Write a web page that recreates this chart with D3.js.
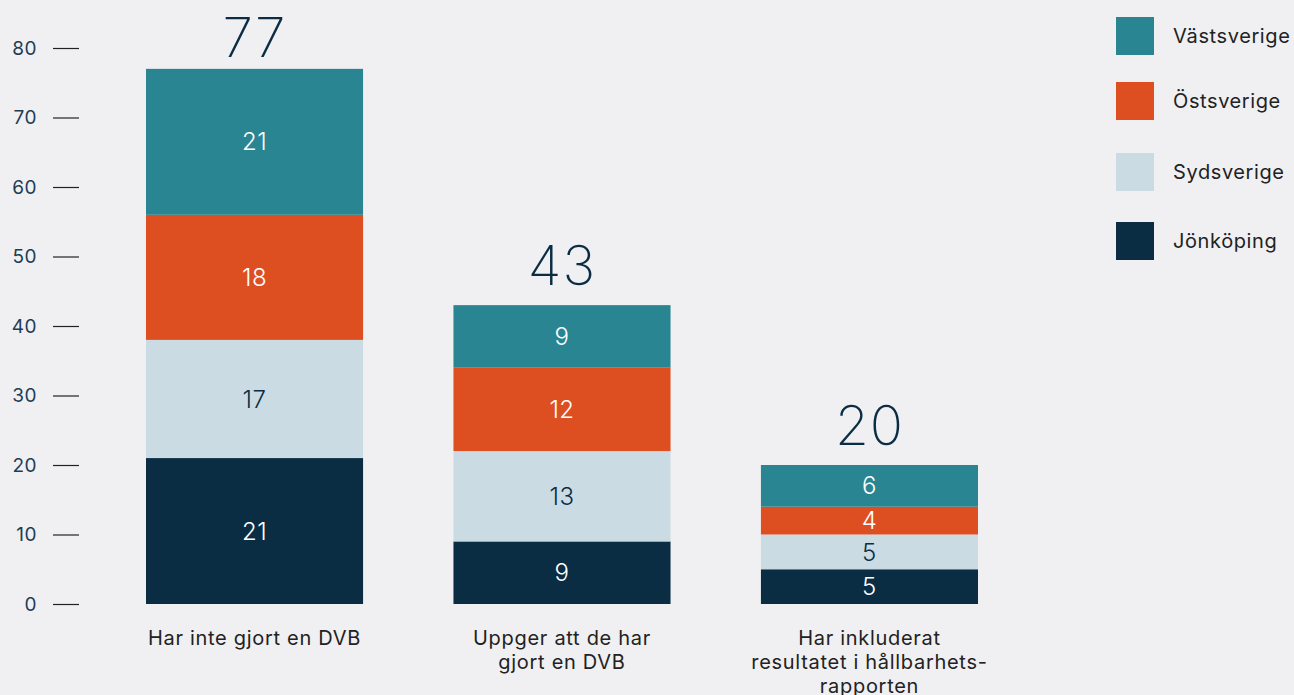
<!DOCTYPE html>
<html>
<head>
<meta charset="utf-8">
<script src="https://cdn.jsdelivr.net/npm/d3@7"></script>
<style>
  html, body { margin: 0; padding: 0; background: #f0f0f2; }
  svg { display: block; font-family: Inter, "Open Sans", sans-serif; }
</style>
</head>
<body>
<svg id="chart" width="1294" height="695"></svg>
<script>
const categories = [
  ['Har inte gjort en DVB'],
  ['Uppger att de har', 'gjort en DVB'],
  ['Har inkluderat', 'resultatet i hållbarhets-', 'rapporten']
];
const regions = ['Jönköping', 'Sydsverige', 'Östsverige', 'Västsverige'];
const jonkoping = [21, 9, 5];
const sydsverige = [17, 13, 5];
const ostsverige = [18, 12, 4];
const vastsverige = [21, 9, 6];
const yTicks = [0, 10, 20, 30, 40, 50, 60, 70, 80];

const colors = {
  'Västsverige': '#2a8592',
  'Östsverige': '#dd4f20',
  'Sydsverige': '#cbdbe3',
  'Jönköping': '#0a2d44'
};
const labelColor = { 'Sydsverige': '#0a2d44' };

const rows = categories.map((c, i) => ({
  key: i,
  'Jönköping': jonkoping[i],
  'Sydsverige': sydsverige[i],
  'Östsverige': ostsverige[i],
  'Västsverige': vastsverige[i]
}));
const totals = rows.map(r => regions.reduce((s, k) => s + r[k], 0));

const svg = d3.select('#chart');

let x = d3.scaleBand().domain(d3.range(categories.length)).range([100.8, 1023.2]).paddingInner(0.294).paddingOuter(0.147);
let y = d3.scaleLinear().domain([0, 80]).range([604, 48]);

// y axis
let yAxis = svg.append('g').attr('transform', 'translate(53,0)');
yAxis.selectAll('line').data(yTicks).enter().append('line')
  .attr('x1', 0).attr('x2', 26)
  .attr('y1', d => y(d) + 0.5).attr('y2', d => y(d) + 0.5)
  .attr('stroke', '#222').attr('stroke-width', 1.2);
yAxis.selectAll('text').data(yTicks).enter().append('text')
  .attr('x', -16).attr('y', d => y(d))
  .attr('dy', '0.35em')
  .attr('text-anchor', 'end')
  .attr('font-size', 19)
  .attr('letter-spacing', 0.5)
  .attr('fill', '#1d3d55')
  .text(d => d);

// stacked bars
let series = d3.stack().keys(regions)(rows);
let layers = svg.append('g').selectAll('g').data(series).enter().append('g')
  .attr('fill', d => colors[d.key]);

layers.selectAll('rect').data(d => d.map(v => Object.assign(v, { region: d.key }))).enter().append('rect')
  .attr('x', (d, i) => x(i))
  .attr('width', x.bandwidth())
  .attr('y', d => y(d[1]))
  .attr('height', d => y(d[0]) - y(d[1]));

layers.selectAll('text').data(d => d).enter().append('text')
  .attr('x', (d, i) => x(i) + x.bandwidth() / 2)
  .attr('y', d => (y(d[0]) + y(d[1])) / 2)
  .attr('dy', '0.36em')
  .attr('text-anchor', 'middle')
  .attr('font-size', 24)
  .attr('font-weight', 300)
  .attr('letter-spacing', 0.5)
  .attr('fill', d => labelColor[d.region] || '#ffffff')
  .text(d => d[1] - d[0]);

// totals
svg.append('g').selectAll('text').data(totals).enter().append('text')
  .attr('x', (d, i) => x(i) + x.bandwidth() / 2)
  .attr('y', d => Math.max(57, y(d) - 20))
  .attr('text-anchor', 'middle')
  .attr('font-size', 55)
  .attr('font-weight', 200)
  .attr('letter-spacing', 1)
  .attr('fill', '#0a2d44')
  .text(d => d);

// category labels
let cats = svg.append('g').selectAll('text').data(categories).enter().append('text')
  .attr('x', (d, i) => x(i) + x.bandwidth() / 2)
  .attr('y', 645)
  .attr('text-anchor', 'middle')
  .attr('font-size', 20)
  .attr('letter-spacing', 0.7)
  .attr('fill', '#222');
cats.selectAll('tspan').data(d => d).enter().append('tspan')
  .attr('x', function () { return this.parentNode.getAttribute('x'); })
  .attr('dy', (d, i) => i === 0 ? 0 : 24)
  .text(d => d);

// legend
let legendOrder = ['Västsverige', 'Östsverige', 'Sydsverige', 'Jönköping'];
let legendY = [17, 82, 153, 222];
let legend = svg.append('g').selectAll('g').data(legendOrder).enter().append('g')
  .attr('transform', (d, i) => `translate(1116,${legendY[i]})`);
legend.append('rect').attr('width', 38).attr('height', 38).attr('fill', d => colors[d]);
legend.append('text')
  .attr('x', 57).attr('y', 19).attr('dy', '0.35em')
  .attr('font-size', 20)
  .attr('letter-spacing', 0.6)
  .attr('fill', '#222')
  .text(d => d);
</script>
</body>
</html>
